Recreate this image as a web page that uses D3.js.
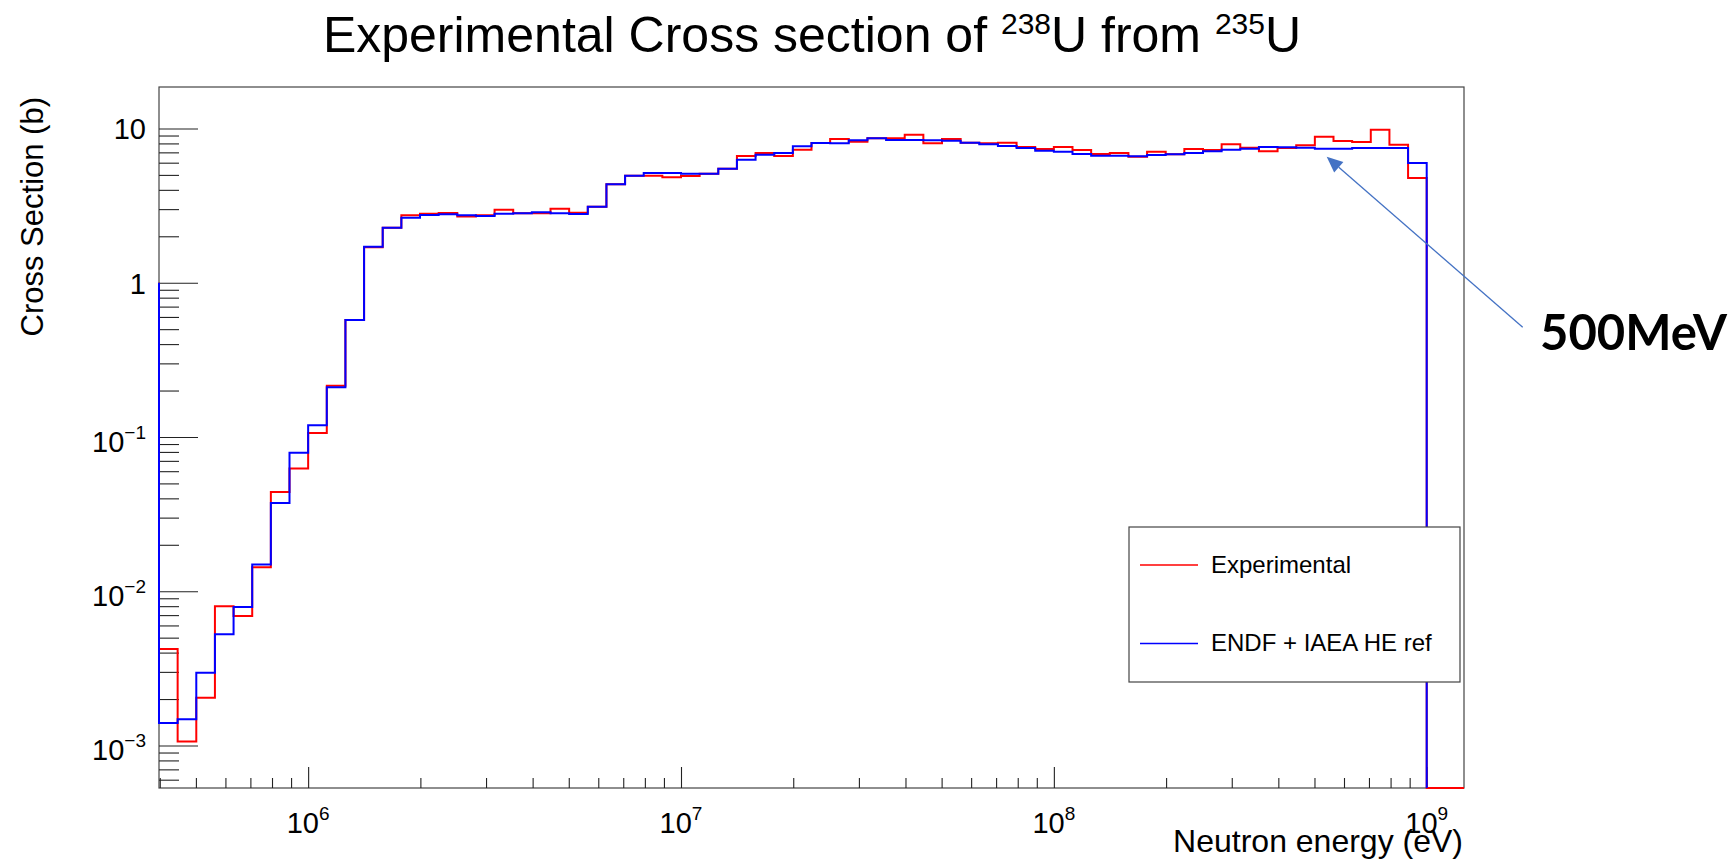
<!DOCTYPE html>
<html>
<head>
<meta charset="utf-8">
<script src="https://cdn.jsdelivr.net/npm/d3@7"></script>
<style>
  body { margin: 0; background: #fff; }
  svg { display: block; font-family: "Liberation Sans", Arial, sans-serif; }
</style>
</head>
<body>
<svg id="chart" width="1734" height="860"></svg>
<script>
'use strict';

// binning del histograma: bins logaritmicos, 20 por decada
var logEnergyMin = 5.6;
var binDecades = 0.05;
var nBins = 70;

// seccion eficaz (b) por bin
var experimental = [
    4.22e-3, 1.06e-3, 2.04e-3, 7.98e-3, 6.91e-3, 1.43e-2, 4.40e-2, 6.24e-2, 0.106, 0.215,
    0.573, 1.70, 2.27, 2.74, 2.80, 2.83, 2.69, 2.74, 2.97, 2.82,
    2.82, 3.02, 2.84, 3.11, 4.35, 4.94, 4.94, 4.82, 4.92, 5.09,
    5.48, 6.63, 6.93, 6.63, 7.28, 8.05, 8.54, 8.21, 8.63, 8.63,
    9.11, 8.01, 8.55, 8.08, 8.01, 8.08, 7.58, 7.36, 7.58, 7.25,
    6.83, 6.93, 6.56, 7.07, 6.80, 7.36, 7.25, 7.89, 7.50, 7.11,
    7.47, 7.78, 8.84, 8.29, 8.17, 9.81, 7.85, 4.77, 0, 0
];

var endfIaea = [
    1.40e-3, 1.48e-3, 2.96e-3, 5.26e-3, 7.90e-3, 1.49e-2, 3.73e-2, 7.89e-2, 0.119, 0.210,
    0.573, 1.71, 2.27, 2.64, 2.75, 2.78, 2.74, 2.71, 2.80, 2.82,
    2.86, 2.82, 2.79, 3.11, 4.35, 4.94, 5.14, 5.14, 5.09, 5.09,
    5.48, 6.27, 6.76, 6.93, 7.66, 8.05, 8.01, 8.38, 8.63, 8.42,
    8.42, 8.38, 8.33, 8.08, 7.89, 7.70, 7.47, 7.17, 7.07, 6.83,
    6.66, 6.66, 6.60, 6.73, 6.80, 6.93, 7.11, 7.28, 7.39, 7.58,
    7.55, 7.50, 7.39, 7.39, 7.47, 7.47, 7.47, 5.97
];

var xMajorTicks = [1e6, 1e7, 1e8, 1e9];
var xMajorExp = ['6', '7', '8', '9'];
var yMajorTicks = [1e-3, 1e-2, 1e-1, 1, 10];
var yMajorBase = ['10', '10', '10', '1', '10'];
var yMajorExp = ['\u22123', '\u22122', '\u22121', '', ''];

var seriesNames = ['Experimental', 'ENDF + IAEA HE ref'];
var seriesColors = ['#ff0000', '#0000ff'];

var yDomain = [5.30e-4, 18.57];

function drawChart() {
    var margin = { top: 87, right: 270, bottom: 72, left: 159 };
    var W = 1734, H = 860;
    var width = W - margin.left - margin.right;
    var height = H - margin.top - margin.bottom;

    var svg = d3.select('#chart');
    var g = svg.append('g').attr('transform', 'translate(' + margin.left + ',' + margin.top + ')');

    var x = d3.scaleLog()
        .domain([Math.pow(10, logEnergyMin), Math.pow(10, logEnergyMin + nBins * binDecades)])
        .range([0, width]);
    var y = d3.scaleLog().domain(yDomain).range([height, 0]);

    function edge(i) { return Math.pow(10, logEnergyMin + i * binDecades); }
    function yv(v) { return v > 0 ? Math.min(height, y(v)) : height; }

    // minor ticks 2..9 x 10^n
    var xMinor = [], yMinor = [];
    for (var e = 5; e <= 9; e++) {
        for (var m = 2; m <= 9; m++) {
            var v = m * Math.pow(10, e);
            if (v >= x.domain()[0] && v <= x.domain()[1]) xMinor.push(v);
        }
    }
    for (var e2 = -4; e2 <= 1; e2++) {
        for (var m2 = 2; m2 <= 9; m2++) {
            var v2 = m2 * Math.pow(10, e2);
            if (v2 >= yDomain[0] && v2 <= yDomain[1]) yMinor.push(v2);
        }
    }

    // frame
    g.append('rect').attr('width', width).attr('height', height)
        .attr('fill', 'none').attr('stroke', '#444').attr('stroke-width', 1.2);

    // ejes (ticks hacia dentro, estilo ROOT)
    function styleAxis(sel) {
        sel.select('.domain').remove();
        sel.selectAll('line').attr('stroke', '#222').attr('stroke-width', 1.1);
        sel.selectAll('text').remove();
    }
    g.append('g').attr('transform', 'translate(0,' + height + ')')
        .call(d3.axisBottom(x).tickValues(xMajorTicks).tickSize(-21)).call(styleAxis);
    g.append('g').attr('transform', 'translate(0,' + height + ')')
        .call(d3.axisBottom(x).tickValues(xMinor).tickSize(-10)).call(styleAxis);
    g.append('g')
        .call(d3.axisLeft(y).tickValues(yMajorTicks).tickSize(-39)).call(styleAxis);
    g.append('g')
        .call(d3.axisLeft(y).tickValues(yMinor).tickSize(-20)).call(styleAxis);

    // etiquetas eje X
    xMajorTicks.forEach(function (t, i) {
        var tx = g.append('text').attr('x', x(t)).attr('y', height + 45)
            .attr('text-anchor', 'middle').attr('font-size', 29).attr('fill', '#000');
        tx.append('tspan').text('10');
        tx.append('tspan').attr('font-size', 19).attr('dy', -13).text(xMajorExp[i]);
    });

    // etiquetas eje Y
    yMajorTicks.forEach(function (t, i) {
        var sup = yMajorExp[i] !== '';
        var ty = g.append('text').attr('x', 146 - margin.left)
            .attr('y', y(t) + (sup ? 14.7 : 11))
            .attr('text-anchor', 'end').attr('font-size', 29).attr('fill', '#000');
        ty.append('tspan').text(yMajorBase[i]);
        if (sup) ty.append('tspan').attr('font-size', 19).attr('dy', -13).text(yMajorExp[i]);
    });

    // histogramas
    function histPoints(vals, closeToBottom) {
        var pts = [[x(edge(0)), y(1)]];
        vals.forEach(function (v, i) {
            pts.push([x(edge(i)), yv(v)]);
            pts.push([x(edge(i + 1)), yv(v)]);
        });
        if (closeToBottom) pts.push([x(edge(vals.length)), height]);
        return pts;
    }
    var line = d3.line();
    [experimental, endfIaea].forEach(function (vals, k) {
        g.append('path')
            .attr('d', line(histPoints(vals, k === 1)))
            .attr('fill', 'none')
            .attr('stroke', seriesColors[k])
            .attr('stroke-width', 2);
    });

    // titulos de ejes
    svg.append('text').attr('x', 1463).attr('y', 852).attr('text-anchor', 'end')
        .attr('font-size', 32).text('Neutron energy (eV)');
    svg.append('text').attr('transform', 'translate(43,97) rotate(-90)')
        .attr('text-anchor', 'end').attr('font-size', 31).text('Cross Section (b)');

    // titulo
    var title = svg.append('text').attr('x', 812).attr('y', 52)
        .attr('text-anchor', 'middle').attr('font-size', 50);
    title.append('tspan').text('Experimental Cross section of ');
    title.append('tspan').attr('font-size', 30).attr('dy', -18).text('238');
    title.append('tspan').attr('dy', 18).text('U from ');
    title.append('tspan').attr('font-size', 30).attr('dy', -18).text('235');
    title.append('tspan').attr('dy', 18).text('U');

    // leyenda
    var leg = svg.append('g');
    leg.append('rect').attr('x', 1129).attr('y', 527).attr('width', 331).attr('height', 155)
        .attr('fill', '#fff').attr('stroke', '#444').attr('stroke-width', 1.2);
    seriesNames.forEach(function (name, i) {
        var ly = 565 + i * 78.5;
        leg.append('line').attr('x1', 1140).attr('x2', 1198).attr('y1', ly).attr('y2', ly)
            .attr('stroke', seriesColors[i]).attr('stroke-width', 1.5);
        leg.append('text').attr('x', 1211).attr('y', ly + 7.5).attr('font-size', 24).text(name);
    });

    // anotacion (flecha + texto)
    var tail = [1522.7, 327.3], tip = [1326.7, 156.7];
    var dx = tip[0] - tail[0], dy = tip[1] - tail[1];
    var len = Math.sqrt(dx * dx + dy * dy);
    var ux = dx / len, uy = dy / len;
    var headL = 16, headW = 7;
    var bx = tip[0] - ux * headL, by = tip[1] - uy * headL;
    svg.append('line').attr('x1', tail[0]).attr('y1', tail[1]).attr('x2', bx).attr('y2', by)
        .attr('stroke', '#4472c4').attr('stroke-width', 1.3);
    svg.append('polygon')
        .attr('points', [tip, [bx - uy * headW, by + ux * headW], [bx + uy * headW, by - ux * headW]]
            .map(function (p) { return p.join(','); }).join(' '))
        .attr('fill', '#4472c4');
    svg.append('text').attr('x', 1540).attr('y', 350)
        .attr('font-family', 'Lato, "Open Sans", sans-serif').attr('font-weight', 700)
        .attr('font-size', 49).attr('fill', '#000').text('500MeV');
}

drawChart();
</script>
</body>
</html>
